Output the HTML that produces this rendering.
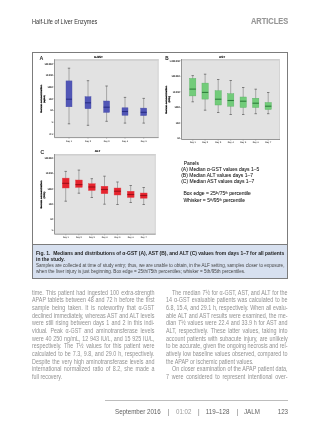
<!DOCTYPE html>
<html><head><meta charset="utf-8">
<style>
html,body{margin:0;padding:0;background:#fff;}
body{width:320px;height:428px;position:relative;overflow:hidden;font-family:"Liberation Sans",sans-serif;}
.t{position:absolute;white-space:nowrap;line-height:0;filter:grayscale(1);}
.t sup{font-size:60%;vertical-align:0;position:relative;top:-0.35em;}
.fig{position:absolute;left:32px;top:52px;width:254px;height:225px;border:1px solid #7c7c7c;background:#fff;}
.cap{position:absolute;left:33px;top:244px;width:254px;height:33px;border-top:1px solid #7c7c7c;background:#d7e0ef;}
svg{position:absolute;left:0;top:0;}
svg.txt{filter:grayscale(1);}
.tk{font-size:2.3px;fill:#1a1a1a;stroke:#1a1a1a;stroke-width:0.05px;font-weight:bold;text-rendering:geometricPrecision;}
.pl{font-size:5px;fill:#1a1a1a;stroke:#1a1a1a;stroke-width:0.15px;}
.ti{font-size:3px;fill:#000;stroke:#000;stroke-width:0.12px;font-weight:bold;text-rendering:geometricPrecision;}
.at{font-size:2.3px;fill:#000;stroke:#000;stroke-width:0.2px;font-weight:bold;text-rendering:geometricPrecision;}
.dl{font-size:2.2px;fill:#3a3a3a;font-weight:bold;text-rendering:geometricPrecision;}
.at2{font-size:2.2px;fill:#000;stroke:#000;stroke-width:0.18px;font-weight:bold;text-rendering:geometricPrecision;}
.ln{color:#929292;text-align:justify;text-align-last:justify;}
.ln.nj{text-align:left;text-align-last:left;}
.rule{position:absolute;left:104.8px;top:400px;width:183.2px;height:0.8px;background:#bdbdbd}
</style></head><body>
<div class="fig"></div>
<div class="cap"></div>
<svg width="320" height="428" viewBox="0 0 320 428">
<rect x="54.5" y="59.2" width="104.1" height="78.39999999999999" fill="#e2e2e2"/>
<rect x="54.5" y="59.2" width="104.1" height="1.6" fill="#cfcfcf"/>
<rect x="157.6" y="59.2" width="1" height="78.39999999999999" fill="#d4d4d4"/>
<line x1="54.5" y1="59.2" x2="54.5" y2="137.6" stroke="#8a8a8a" stroke-width="0.9"/>
<line x1="54.5" y1="137.6" x2="158.6" y2="137.6" stroke="#8a8a8a" stroke-width="0.9"/>
<line x1="53.2" y1="63.7" x2="54.5" y2="63.7" stroke="#888" stroke-width="0.5"/>
<line x1="53.2" y1="75.3" x2="54.5" y2="75.3" stroke="#888" stroke-width="0.5"/>
<line x1="53.2" y1="86.9" x2="54.5" y2="86.9" stroke="#888" stroke-width="0.5"/>
<line x1="53.2" y1="98.8" x2="54.5" y2="98.8" stroke="#888" stroke-width="0.5"/>
<line x1="53.2" y1="110.5" x2="54.5" y2="110.5" stroke="#888" stroke-width="0.5"/>
<line x1="53.2" y1="122.2" x2="54.5" y2="122.2" stroke="#888" stroke-width="0.5"/>
<line x1="53.2" y1="134" x2="54.5" y2="134" stroke="#888" stroke-width="0.5"/>
<line x1="69" y1="137.6" x2="69" y2="138.79999999999998" stroke="#888" stroke-width="0.5"/>
<line x1="88" y1="137.6" x2="88" y2="138.79999999999998" stroke="#888" stroke-width="0.5"/>
<line x1="106.6" y1="137.6" x2="106.6" y2="138.79999999999998" stroke="#888" stroke-width="0.5"/>
<line x1="125" y1="137.6" x2="125" y2="138.79999999999998" stroke="#888" stroke-width="0.5"/>
<line x1="143.7" y1="137.6" x2="143.7" y2="138.79999999999998" stroke="#888" stroke-width="0.5"/>
<line x1="69" y1="68.2" x2="69" y2="123.8" stroke="#929292" stroke-width="0.75"/>
<line x1="67.8" y1="68.2" x2="70.2" y2="68.2" stroke="#666" stroke-width="0.8"/>
<line x1="67.8" y1="123.8" x2="70.2" y2="123.8" stroke="#666" stroke-width="0.8"/>
<rect x="66.0" y="80.9" width="6.0" height="25.89999999999999" fill="#5156b6" stroke="#4a4fa8" stroke-width="0.4"/>
<line x1="66.0" y1="99.2" x2="72.0" y2="99.2" stroke="#2a2f86" stroke-width="1.1"/>
<line x1="88" y1="80.7" x2="88" y2="125.3" stroke="#929292" stroke-width="0.75"/>
<line x1="86.8" y1="80.7" x2="89.2" y2="80.7" stroke="#666" stroke-width="0.8"/>
<line x1="86.8" y1="125.3" x2="89.2" y2="125.3" stroke="#666" stroke-width="0.8"/>
<rect x="85.0" y="96.7" width="6.0" height="12.0" fill="#5156b6" stroke="#4a4fa8" stroke-width="0.4"/>
<line x1="85.0" y1="102.8" x2="91.0" y2="102.8" stroke="#2a2f86" stroke-width="1.1"/>
<line x1="106.6" y1="86" x2="106.6" y2="121.3" stroke="#929292" stroke-width="0.75"/>
<line x1="105.39999999999999" y1="86" x2="107.8" y2="86" stroke="#666" stroke-width="0.8"/>
<line x1="105.39999999999999" y1="121.3" x2="107.8" y2="121.3" stroke="#666" stroke-width="0.8"/>
<rect x="103.6" y="101" width="6.0" height="11.400000000000006" fill="#5156b6" stroke="#4a4fa8" stroke-width="0.4"/>
<line x1="103.6" y1="107.2" x2="109.6" y2="107.2" stroke="#2a2f86" stroke-width="1.1"/>
<line x1="125" y1="97.4" x2="125" y2="123.1" stroke="#929292" stroke-width="0.75"/>
<line x1="123.8" y1="97.4" x2="126.2" y2="97.4" stroke="#666" stroke-width="0.8"/>
<line x1="123.8" y1="123.1" x2="126.2" y2="123.1" stroke="#666" stroke-width="0.8"/>
<rect x="122.0" y="107.8" width="6.0" height="7.5" fill="#5156b6" stroke="#4a4fa8" stroke-width="0.4"/>
<line x1="122.0" y1="111.5" x2="128.0" y2="111.5" stroke="#2a2f86" stroke-width="1.1"/>
<line x1="143.7" y1="98.4" x2="143.7" y2="123.1" stroke="#929292" stroke-width="0.75"/>
<line x1="142.5" y1="98.4" x2="144.89999999999998" y2="98.4" stroke="#666" stroke-width="0.8"/>
<line x1="142.5" y1="123.1" x2="144.89999999999998" y2="123.1" stroke="#666" stroke-width="0.8"/>
<rect x="140.7" y="108.1" width="6.0" height="7.5" fill="#5156b6" stroke="#4a4fa8" stroke-width="0.4"/>
<line x1="140.7" y1="112.3" x2="146.7" y2="112.3" stroke="#2a2f86" stroke-width="1.1"/>
<rect x="181.5" y="59.0" width="98.5" height="80.5" fill="#e2e2e2"/>
<rect x="181.5" y="59.0" width="98.5" height="1.6" fill="#cfcfcf"/>
<rect x="279" y="59.0" width="1" height="80.5" fill="#d4d4d4"/>
<line x1="181.5" y1="59.0" x2="181.5" y2="139.5" stroke="#8a8a8a" stroke-width="0.9"/>
<line x1="181.5" y1="139.5" x2="280" y2="139.5" stroke="#8a8a8a" stroke-width="0.9"/>
<line x1="180.2" y1="60.7" x2="181.5" y2="60.7" stroke="#888" stroke-width="0.5"/>
<line x1="180.2" y1="76.3" x2="181.5" y2="76.3" stroke="#888" stroke-width="0.5"/>
<line x1="180.2" y1="91.8" x2="181.5" y2="91.8" stroke="#888" stroke-width="0.5"/>
<line x1="180.2" y1="107.6" x2="181.5" y2="107.6" stroke="#888" stroke-width="0.5"/>
<line x1="180.2" y1="123" x2="181.5" y2="123" stroke="#888" stroke-width="0.5"/>
<line x1="180.2" y1="138.5" x2="181.5" y2="138.5" stroke="#888" stroke-width="0.5"/>
<line x1="192.8" y1="139.5" x2="192.8" y2="140.7" stroke="#888" stroke-width="0.5"/>
<line x1="205.1" y1="139.5" x2="205.1" y2="140.7" stroke="#888" stroke-width="0.5"/>
<line x1="218.2" y1="139.5" x2="218.2" y2="140.7" stroke="#888" stroke-width="0.5"/>
<line x1="230.7" y1="139.5" x2="230.7" y2="140.7" stroke="#888" stroke-width="0.5"/>
<line x1="243.2" y1="139.5" x2="243.2" y2="140.7" stroke="#888" stroke-width="0.5"/>
<line x1="255.7" y1="139.5" x2="255.7" y2="140.7" stroke="#888" stroke-width="0.5"/>
<line x1="268.2" y1="139.5" x2="268.2" y2="140.7" stroke="#888" stroke-width="0.5"/>
<line x1="192.7" y1="75.6" x2="192.7" y2="101.8" stroke="#929292" stroke-width="0.75"/>
<line x1="191.5" y1="75.6" x2="193.89999999999998" y2="75.6" stroke="#666" stroke-width="0.8"/>
<line x1="191.5" y1="101.8" x2="193.89999999999998" y2="101.8" stroke="#666" stroke-width="0.8"/>
<rect x="189.54999999999998" y="78.4" width="6.3" height="17.5" fill="#72cc7a" stroke="#58b062" stroke-width="0.4"/>
<line x1="189.54999999999998" y1="89.1" x2="195.85" y2="89.1" stroke="#2f7d3c" stroke-width="1.1"/>
<line x1="205.1" y1="74.2" x2="205.1" y2="110.2" stroke="#929292" stroke-width="0.75"/>
<line x1="203.9" y1="74.2" x2="206.29999999999998" y2="74.2" stroke="#666" stroke-width="0.8"/>
<line x1="203.9" y1="110.2" x2="206.29999999999998" y2="110.2" stroke="#666" stroke-width="0.8"/>
<rect x="201.95" y="83.1" width="6.3" height="16.0" fill="#72cc7a" stroke="#58b062" stroke-width="0.4"/>
<line x1="201.95" y1="92.4" x2="208.25" y2="92.4" stroke="#2f7d3c" stroke-width="1.1"/>
<line x1="218.2" y1="79.5" x2="218.2" y2="112.5" stroke="#929292" stroke-width="0.75"/>
<line x1="217.0" y1="79.5" x2="219.39999999999998" y2="79.5" stroke="#666" stroke-width="0.8"/>
<line x1="217.0" y1="112.5" x2="219.39999999999998" y2="112.5" stroke="#666" stroke-width="0.8"/>
<rect x="215.04999999999998" y="90.7" width="6.3" height="14.299999999999997" fill="#72cc7a" stroke="#58b062" stroke-width="0.4"/>
<line x1="215.04999999999998" y1="99.2" x2="221.35" y2="99.2" stroke="#2f7d3c" stroke-width="1.1"/>
<line x1="230.7" y1="80.5" x2="230.7" y2="114.5" stroke="#929292" stroke-width="0.75"/>
<line x1="229.5" y1="80.5" x2="231.89999999999998" y2="80.5" stroke="#666" stroke-width="0.8"/>
<line x1="229.5" y1="114.5" x2="231.89999999999998" y2="114.5" stroke="#666" stroke-width="0.8"/>
<rect x="227.54999999999998" y="93.7" width="6.3" height="12.5" fill="#72cc7a" stroke="#58b062" stroke-width="0.4"/>
<line x1="227.54999999999998" y1="100.5" x2="233.85" y2="100.5" stroke="#2f7d3c" stroke-width="1.1"/>
<line x1="243.2" y1="87.5" x2="243.2" y2="114.5" stroke="#929292" stroke-width="0.75"/>
<line x1="242.0" y1="87.5" x2="244.39999999999998" y2="87.5" stroke="#666" stroke-width="0.8"/>
<line x1="242.0" y1="114.5" x2="244.39999999999998" y2="114.5" stroke="#666" stroke-width="0.8"/>
<rect x="240.04999999999998" y="97" width="6.3" height="10.5" fill="#72cc7a" stroke="#58b062" stroke-width="0.4"/>
<line x1="240.04999999999998" y1="101.2" x2="246.35" y2="101.2" stroke="#2f7d3c" stroke-width="1.1"/>
<line x1="255.7" y1="89.2" x2="255.7" y2="113.7" stroke="#929292" stroke-width="0.75"/>
<line x1="254.5" y1="89.2" x2="256.9" y2="89.2" stroke="#666" stroke-width="0.8"/>
<line x1="254.5" y1="113.7" x2="256.9" y2="113.7" stroke="#666" stroke-width="0.8"/>
<rect x="252.54999999999998" y="98.2" width="6.3" height="9.299999999999997" fill="#72cc7a" stroke="#58b062" stroke-width="0.4"/>
<line x1="252.54999999999998" y1="103.2" x2="258.84999999999997" y2="103.2" stroke="#2f7d3c" stroke-width="1.1"/>
<line x1="268.2" y1="92.5" x2="268.2" y2="113.7" stroke="#929292" stroke-width="0.75"/>
<line x1="267.0" y1="92.5" x2="269.4" y2="92.5" stroke="#666" stroke-width="0.8"/>
<line x1="267.0" y1="113.7" x2="269.4" y2="113.7" stroke="#666" stroke-width="0.8"/>
<rect x="265.05" y="102.5" width="6.3" height="7.0" fill="#72cc7a" stroke="#58b062" stroke-width="0.4"/>
<line x1="265.05" y1="106.2" x2="271.35" y2="106.2" stroke="#2f7d3c" stroke-width="1.1"/>
<rect x="54.5" y="154.0" width="101.19999999999999" height="80.19999999999999" fill="#e2e2e2"/>
<rect x="54.5" y="154.0" width="101.19999999999999" height="1.6" fill="#cfcfcf"/>
<rect x="154.7" y="154.0" width="1" height="80.19999999999999" fill="#d4d4d4"/>
<line x1="54.5" y1="154.0" x2="54.5" y2="234.2" stroke="#8a8a8a" stroke-width="0.9"/>
<line x1="54.5" y1="234.2" x2="155.7" y2="234.2" stroke="#8a8a8a" stroke-width="0.9"/>
<line x1="53.2" y1="158.1" x2="54.5" y2="158.1" stroke="#888" stroke-width="0.5"/>
<line x1="53.2" y1="173.6" x2="54.5" y2="173.6" stroke="#888" stroke-width="0.5"/>
<line x1="53.2" y1="188.9" x2="54.5" y2="188.9" stroke="#888" stroke-width="0.5"/>
<line x1="53.2" y1="204.2" x2="54.5" y2="204.2" stroke="#888" stroke-width="0.5"/>
<line x1="53.2" y1="219" x2="54.5" y2="219" stroke="#888" stroke-width="0.5"/>
<line x1="53.2" y1="230.4" x2="54.5" y2="230.4" stroke="#888" stroke-width="0.5"/>
<line x1="65.8" y1="234.2" x2="65.8" y2="235.39999999999998" stroke="#888" stroke-width="0.5"/>
<line x1="78.8" y1="234.2" x2="78.8" y2="235.39999999999998" stroke="#888" stroke-width="0.5"/>
<line x1="91.8" y1="234.2" x2="91.8" y2="235.39999999999998" stroke="#888" stroke-width="0.5"/>
<line x1="104.6" y1="234.2" x2="104.6" y2="235.39999999999998" stroke="#888" stroke-width="0.5"/>
<line x1="117.5" y1="234.2" x2="117.5" y2="235.39999999999998" stroke="#888" stroke-width="0.5"/>
<line x1="130.7" y1="234.2" x2="130.7" y2="235.39999999999998" stroke="#888" stroke-width="0.5"/>
<line x1="143.7" y1="234.2" x2="143.7" y2="235.39999999999998" stroke="#888" stroke-width="0.5"/>
<line x1="65.7" y1="171.4" x2="65.7" y2="201.2" stroke="#929292" stroke-width="0.75"/>
<line x1="64.5" y1="171.4" x2="66.9" y2="171.4" stroke="#666" stroke-width="0.8"/>
<line x1="64.5" y1="201.2" x2="66.9" y2="201.2" stroke="#666" stroke-width="0.8"/>
<rect x="62.300000000000004" y="178.1" width="6.8" height="9.900000000000006" fill="#e6242e" stroke="#e0444c" stroke-width="0.4"/>
<line x1="62.300000000000004" y1="183.3" x2="69.10000000000001" y2="183.3" stroke="#9c1018" stroke-width="1.1"/>
<line x1="78.9" y1="170.1" x2="78.9" y2="193.2" stroke="#929292" stroke-width="0.75"/>
<line x1="77.7" y1="170.1" x2="80.10000000000001" y2="170.1" stroke="#666" stroke-width="0.8"/>
<line x1="77.7" y1="193.2" x2="80.10000000000001" y2="193.2" stroke="#666" stroke-width="0.8"/>
<rect x="75.5" y="180" width="6.8" height="7.400000000000006" fill="#e6242e" stroke="#e0444c" stroke-width="0.4"/>
<line x1="75.5" y1="184.6" x2="82.3" y2="184.6" stroke="#9c1018" stroke-width="1.1"/>
<line x1="91.8" y1="178.7" x2="91.8" y2="197.5" stroke="#929292" stroke-width="0.75"/>
<line x1="90.6" y1="178.7" x2="93.0" y2="178.7" stroke="#666" stroke-width="0.8"/>
<line x1="90.6" y1="197.5" x2="93.0" y2="197.5" stroke="#666" stroke-width="0.8"/>
<rect x="88.39999999999999" y="183.7" width="6.8" height="6.800000000000011" fill="#e6242e" stroke="#e0444c" stroke-width="0.4"/>
<line x1="88.39999999999999" y1="187" x2="95.19999999999999" y2="187" stroke="#9c1018" stroke-width="1.1"/>
<line x1="104.5" y1="176.2" x2="104.5" y2="204.2" stroke="#929292" stroke-width="0.75"/>
<line x1="103.3" y1="176.2" x2="105.7" y2="176.2" stroke="#666" stroke-width="0.8"/>
<line x1="103.3" y1="204.2" x2="105.7" y2="204.2" stroke="#666" stroke-width="0.8"/>
<rect x="101.1" y="186.2" width="6.8" height="7.5" fill="#e6242e" stroke="#e0444c" stroke-width="0.4"/>
<line x1="101.1" y1="189.5" x2="107.89999999999999" y2="189.5" stroke="#9c1018" stroke-width="1.1"/>
<line x1="117.5" y1="182" x2="117.5" y2="204.5" stroke="#929292" stroke-width="0.75"/>
<line x1="116.3" y1="182" x2="118.7" y2="182" stroke="#666" stroke-width="0.8"/>
<line x1="116.3" y1="204.5" x2="118.7" y2="204.5" stroke="#666" stroke-width="0.8"/>
<rect x="114.1" y="188" width="6.8" height="7" fill="#e6242e" stroke="#e0444c" stroke-width="0.4"/>
<line x1="114.1" y1="191.2" x2="120.89999999999999" y2="191.2" stroke="#9c1018" stroke-width="1.1"/>
<line x1="130.7" y1="185.5" x2="130.7" y2="202.5" stroke="#929292" stroke-width="0.75"/>
<line x1="129.5" y1="185.5" x2="131.89999999999998" y2="185.5" stroke="#666" stroke-width="0.8"/>
<line x1="129.5" y1="202.5" x2="131.89999999999998" y2="202.5" stroke="#666" stroke-width="0.8"/>
<rect x="127.29999999999998" y="191.2" width="6.8" height="6.300000000000011" fill="#e6242e" stroke="#e0444c" stroke-width="0.4"/>
<line x1="127.29999999999998" y1="194.5" x2="134.1" y2="194.5" stroke="#9c1018" stroke-width="1.1"/>
<line x1="143.7" y1="187.5" x2="143.7" y2="204.5" stroke="#929292" stroke-width="0.75"/>
<line x1="142.5" y1="187.5" x2="144.89999999999998" y2="187.5" stroke="#666" stroke-width="0.8"/>
<line x1="142.5" y1="204.5" x2="144.89999999999998" y2="204.5" stroke="#666" stroke-width="0.8"/>
<rect x="140.29999999999998" y="193" width="6.8" height="5.199999999999989" fill="#e6242e" stroke="#e0444c" stroke-width="0.4"/>
<line x1="140.29999999999998" y1="195.5" x2="147.1" y2="195.5" stroke="#9c1018" stroke-width="1.1"/>
</svg>
<svg class="txt" width="320" height="428" viewBox="0 0 320 428">
<text x="52.7" y="64.5" text-anchor="end" class="tk">100 000</text>
<text x="52.7" y="76.1" text-anchor="end" class="tk">10 000</text>
<text x="52.7" y="87.7" text-anchor="end" class="tk">1000</text>
<text x="52.7" y="99.6" text-anchor="end" class="tk">100</text>
<text x="52.7" y="111.3" text-anchor="end" class="tk">10</text>
<text x="52.7" y="123.0" text-anchor="end" class="tk">1</text>
<text x="52.7" y="134.8" text-anchor="end" class="tk">0.1</text>
<text x="69" y="141.6" text-anchor="middle" class="dl">Day 1</text>
<text x="88" y="141.6" text-anchor="middle" class="dl">Day 2</text>
<text x="106.6" y="141.6" text-anchor="middle" class="dl">Day 3</text>
<text x="125" y="141.6" text-anchor="middle" class="dl">Day 4</text>
<text x="143.7" y="141.6" text-anchor="middle" class="dl">Day 5</text>
<text x="39.8" y="60" class="pl">A</text>
<text x="98.4" y="58.2" text-anchor="middle" class="ti">α-GST</text>
<text transform="translate(42.3,98.7) rotate(-90)" text-anchor="middle" class="at" textLength="28" lengthAdjust="spacingAndGlyphs">Serum concentration</text>
<text transform="translate(44.6,98.9) rotate(-90)" text-anchor="middle" class="at2" textLength="7.6" lengthAdjust="spacingAndGlyphs">(ng/mL)</text>
<text x="179.7" y="61.5" text-anchor="end" class="tk">1 000 000</text>
<text x="179.7" y="77.1" text-anchor="end" class="tk">100 000</text>
<text x="179.7" y="92.6" text-anchor="end" class="tk">10 000</text>
<text x="179.7" y="108.39999999999999" text-anchor="end" class="tk">1000</text>
<text x="179.7" y="123.8" text-anchor="end" class="tk">100</text>
<text x="179.7" y="139.3" text-anchor="end" class="tk">10</text>
<text x="192.8" y="143.1" text-anchor="middle" class="dl">Day 1</text>
<text x="205.1" y="143.1" text-anchor="middle" class="dl">Day 2</text>
<text x="218.2" y="143.1" text-anchor="middle" class="dl">Day 3</text>
<text x="230.7" y="143.1" text-anchor="middle" class="dl">Day 4</text>
<text x="243.2" y="143.1" text-anchor="middle" class="dl">Day 5</text>
<text x="255.7" y="143.1" text-anchor="middle" class="dl">Day 6</text>
<text x="268.2" y="143.1" text-anchor="middle" class="dl">Day 7</text>
<text x="165.2" y="60" class="pl">B</text>
<text x="222" y="57.9" text-anchor="middle" class="ti">AST</text>
<text transform="translate(167.0,99.7) rotate(-90)" text-anchor="middle" class="at" textLength="28" lengthAdjust="spacingAndGlyphs">Serum concentration</text>
<text transform="translate(169.6,99.2) rotate(-90)" text-anchor="middle" class="at2" textLength="6.8" lengthAdjust="spacingAndGlyphs">(IU/L)</text>
<text x="52.7" y="158.9" text-anchor="end" class="tk">100 000</text>
<text x="52.7" y="174.4" text-anchor="end" class="tk">10 000</text>
<text x="52.7" y="189.70000000000002" text-anchor="end" class="tk">1000</text>
<text x="52.7" y="205.0" text-anchor="end" class="tk">100</text>
<text x="52.7" y="219.8" text-anchor="end" class="tk">10</text>
<text x="52.7" y="231.20000000000002" text-anchor="end" class="tk">1</text>
<text x="65.8" y="237.6" text-anchor="middle" class="dl">Day 1</text>
<text x="78.8" y="237.6" text-anchor="middle" class="dl">Day 2</text>
<text x="91.8" y="237.6" text-anchor="middle" class="dl">Day 3</text>
<text x="104.6" y="237.6" text-anchor="middle" class="dl">Day 4</text>
<text x="117.5" y="237.6" text-anchor="middle" class="dl">Day 5</text>
<text x="130.7" y="237.6" text-anchor="middle" class="dl">Day 6</text>
<text x="143.7" y="237.6" text-anchor="middle" class="dl">Day 7</text>
<text x="40.4" y="154.3" class="pl">C</text>
<text x="97.5" y="152.1" text-anchor="middle" class="ti">ALT</text>
<text transform="translate(42.4,194.5) rotate(-90)" text-anchor="middle" class="at" textLength="28" lengthAdjust="spacingAndGlyphs">Serum concentration</text>
<text transform="translate(44.6,195) rotate(-90)" text-anchor="middle" class="at2" textLength="6.8" lengthAdjust="spacingAndGlyphs">(IU/L)</text>
</svg>
<div class="t " style="left:32px;top:22.160px;font-size:5.6px;transform:scale(1.0,1.12);transform-origin:0 1.940px;color:#333;">Half-Life of Liver Enzymes</div>
<div class="t " style="left:251.0px;top:22.067px;font-size:7.6px;transform:scale(0.98,1.1);transform-origin:0 2.633px;color:#969696;font-weight:bold;-webkit-text-stroke:0.12px #969696;">ARTICLES</div>
<div class="t " style="left:183.7px;top:163.068px;font-size:5.0px;transform:scale(1.0,1.12);transform-origin:0 1.732px;color:#111;-webkit-text-stroke:0.05px #111;">Panels</div>
<div class="t " style="left:181.2px;top:168.968px;font-size:5.0px;transform:scale(1.0,1.12);transform-origin:0 1.732px;color:#111;-webkit-text-stroke:0.05px #111;">(A) Median α-GST values days 1–5</div>
<div class="t " style="left:181.2px;top:175.168px;font-size:5.0px;transform:scale(1.0,1.12);transform-origin:0 1.732px;color:#111;-webkit-text-stroke:0.05px #111;">(B) Median ALT values days 1–7</div>
<div class="t " style="left:181.2px;top:181.368px;font-size:5.0px;transform:scale(1.0,1.12);transform-origin:0 1.732px;color:#111;-webkit-text-stroke:0.05px #111;">(C) Median AST values days 1–7</div>
<div class="t " style="left:183.4px;top:193.368px;font-size:5.0px;transform:scale(1.0,1.12);transform-origin:0 1.732px;color:#111;-webkit-text-stroke:0.05px #111;">Box edge = 25<sup>th</sup>/75<sup>th</sup> percentile</div>
<div class="t " style="left:183.4px;top:200.168px;font-size:5.0px;transform:scale(1.0,1.12);transform-origin:0 1.732px;color:#111;-webkit-text-stroke:0.05px #111;">Whisker = 5<sup>th</sup>/95<sup>th</sup> percentile</div>
<div class="t " style="left:36.0px;top:253.678px;font-size:4.97px;transform:scale(1.006,1.15);transform-origin:0 1.722px;color:#1e1e1e;font-weight:bold;">Fig. 1.&nbsp; Medians and distributions of α-GST (A), AST (B), and ALT (C) values from days 1–7 for all patients</div>
<div class="t " style="left:36.0px;top:259.578px;font-size:4.97px;transform:scale(1.0,1.15);transform-origin:0 1.722px;color:#1e1e1e;font-weight:bold;">in the study.</div>
<div class="t " style="left:36.0px;top:266.206px;font-size:4.6px;transform:scale(1.0,1.15);transform-origin:0 1.594px;color:#454545;">Samples are collected at time of study entry; thus, we are unable to obtain, in the ALF setting, samples closer to exposure,</div>
<div class="t " style="left:36.0px;top:272.006px;font-size:4.6px;transform:scale(1.0,1.15);transform-origin:0 1.594px;color:#454545;">when the liver injury is just beginning. Box edge = 25th/75th percentiles; whisker = 5th/95th percentiles.</div>
<div class="t ln" style="left:31.8px;top:292.556px;font-size:5.9px;transform:scale(0.915,1.08);transform-origin:0 2.044px;width:133.77px;">time. This patient had ingested 100 extra-strength</div>
<div class="t ln" style="left:31.8px;top:300.226px;font-size:5.9px;transform:scale(0.915,1.08);transform-origin:0 2.044px;width:133.77px;">APAP tablets between 48 and 72 h before the first</div>
<div class="t ln" style="left:31.8px;top:307.896px;font-size:5.9px;transform:scale(0.915,1.08);transform-origin:0 2.044px;width:133.77px;">sample being taken. It is noteworthy that α-GST</div>
<div class="t ln" style="left:31.8px;top:315.566px;font-size:5.9px;transform:scale(0.915,1.08);transform-origin:0 2.044px;width:133.77px;">declined immediately, whereas AST and ALT levels</div>
<div class="t ln" style="left:31.8px;top:323.236px;font-size:5.9px;transform:scale(0.915,1.08);transform-origin:0 2.044px;width:133.77px;">were still rising between days 1 and 2 in this indi-</div>
<div class="t ln" style="left:31.8px;top:330.906px;font-size:5.9px;transform:scale(0.915,1.08);transform-origin:0 2.044px;width:133.77px;">vidual. Peak α-GST and aminotransferase levels</div>
<div class="t ln" style="left:31.8px;top:338.576px;font-size:5.9px;transform:scale(0.915,1.08);transform-origin:0 2.044px;width:133.77px;">were 40 250 ng/mL, 12 943 IU/L, and 15 925 IU/L,</div>
<div class="t ln" style="left:31.8px;top:346.246px;font-size:5.9px;transform:scale(0.915,1.08);transform-origin:0 2.044px;width:133.77px;">respectively. The <i>T</i>½ values for this patient were</div>
<div class="t ln" style="left:31.8px;top:353.916px;font-size:5.9px;transform:scale(0.915,1.08);transform-origin:0 2.044px;width:133.77px;">calculated to be 7.3, 9.8, and 29.0 h, respectively.</div>
<div class="t ln" style="left:31.8px;top:361.586px;font-size:5.9px;transform:scale(0.915,1.08);transform-origin:0 2.044px;width:133.77px;">Despite the very high aminotransferase levels and</div>
<div class="t ln" style="left:31.8px;top:369.256px;font-size:5.9px;transform:scale(0.915,1.08);transform-origin:0 2.044px;width:133.77px;">international normalized ratio of 8.2, she made a</div>
<div class="t ln nj" style="left:31.8px;top:376.926px;font-size:5.9px;transform:scale(0.915,1.08);transform-origin:0 2.044px;width:133.77px;">full recovery.</div>
<div class="t ln" style="left:172.2px;top:292.556px;font-size:5.9px;transform:scale(0.915,1.08);transform-origin:0 2.044px;width:126.34px;">The median <i>T</i>½ for α-GST, AST, and ALT for the</div>
<div class="t ln" style="left:166.2px;top:300.226px;font-size:5.9px;transform:scale(0.915,1.08);transform-origin:0 2.044px;width:132.90px;">14 α-GST evaluable patients was calculated to be</div>
<div class="t ln" style="left:166.2px;top:307.896px;font-size:5.9px;transform:scale(0.915,1.08);transform-origin:0 2.044px;width:132.90px;">6.8, 15.4, and 29.1 h, respectively. When all evalu-</div>
<div class="t ln" style="left:166.2px;top:315.566px;font-size:5.9px;transform:scale(0.915,1.08);transform-origin:0 2.044px;width:132.90px;">able ALT and AST results were examined, the me-</div>
<div class="t ln" style="left:166.2px;top:323.236px;font-size:5.9px;transform:scale(0.915,1.08);transform-origin:0 2.044px;width:132.90px;">dian <i>T</i>½ values were 22.4 and 33.9 h for AST and</div>
<div class="t ln" style="left:166.2px;top:330.906px;font-size:5.9px;transform:scale(0.915,1.08);transform-origin:0 2.044px;width:132.90px;">ALT, respectively. These latter values, taking into</div>
<div class="t ln" style="left:166.2px;top:338.576px;font-size:5.9px;transform:scale(0.915,1.08);transform-origin:0 2.044px;width:132.90px;">account patients with subacute injury, are unlikely</div>
<div class="t ln" style="left:166.2px;top:346.246px;font-size:5.9px;transform:scale(0.915,1.08);transform-origin:0 2.044px;width:132.90px;">to be accurate, given the ongoing necrosis and rel-</div>
<div class="t ln" style="left:166.2px;top:353.916px;font-size:5.9px;transform:scale(0.915,1.08);transform-origin:0 2.044px;width:132.90px;">atively low baseline values observed, compared to</div>
<div class="t ln nj" style="left:166.2px;top:361.586px;font-size:5.9px;transform:scale(0.915,1.08);transform-origin:0 2.044px;width:132.90px;">the APAP or ischemic patient values.</div>
<div class="t ln" style="left:172.2px;top:369.256px;font-size:5.9px;transform:scale(0.915,1.08);transform-origin:0 2.044px;width:126.34px;">On closer examination of the APAP patient data,</div>
<div class="t ln" style="left:166.2px;top:376.926px;font-size:5.9px;transform:scale(0.915,1.08);transform-origin:0 2.044px;width:132.90px;">7 were considered to represent intentional over-</div>
<div class="t " style="left:115px;top:411.602px;font-size:6.2px;transform:scale(1.0,1.1);transform-origin:0 2.148px;color:#5e5e5e;">September 2016</div>
<div class="t " style="left:167.8px;top:411.602px;font-size:6.2px;transform:scale(1.0,1.1);transform-origin:0 2.148px;color:#707070;">|</div>
<div class="t " style="left:176px;top:411.602px;font-size:6.2px;transform:scale(1.0,1.1);transform-origin:0 2.148px;color:#9a9a9a;">01:02</div>
<div class="t " style="left:198px;top:411.602px;font-size:6.2px;transform:scale(1.0,1.1);transform-origin:0 2.148px;color:#707070;">|</div>
<div class="t " style="left:205.8px;top:411.602px;font-size:6.2px;transform:scale(1.0,1.1);transform-origin:0 2.148px;color:#5e5e5e;">119–128</div>
<div class="t " style="left:236.7px;top:411.602px;font-size:6.2px;transform:scale(1.0,1.1);transform-origin:0 2.148px;color:#707070;">|</div>
<div class="t " style="left:244px;top:411.602px;font-size:6.2px;transform:scale(1.0,1.1);transform-origin:0 2.148px;color:#5e5e5e;">JALM</div>
<div class="t " style="left:277.7px;top:411.602px;font-size:6.2px;transform:scale(1.0,1.1);transform-origin:0 2.148px;color:#5e5e5e;">123</div>
<div class="rule"></div>
</body></html>
